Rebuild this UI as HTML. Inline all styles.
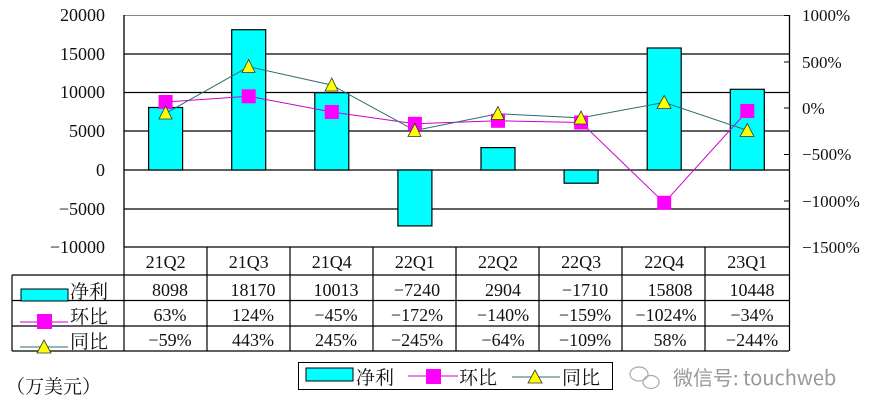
<!DOCTYPE html>
<html><head><meta charset="utf-8"><style>
html,body{margin:0;padding:0;background:#fff;}
svg text{font-family:"Liberation Serif","Noto Serif CJK SC","Noto Sans CJK SC",serif;fill:#111;}
.cj{font-family:'Noto Serif CJK SC','Noto Sans CJK SC',serif;}
</style></head><body>
<svg width="880" height="415" viewBox="0 0 880 415" xmlns="http://www.w3.org/2000/svg">
<rect width="880" height="415" fill="#fff"/>
<g stroke="#000" stroke-width="1.3">
<line x1="124" y1="54" x2="789" y2="54"/>
<line x1="124" y1="92.5" x2="789" y2="92.5"/>
<line x1="124" y1="131" x2="789" y2="131"/>
<line x1="124" y1="170" x2="789" y2="170"/>
<line x1="124" y1="209" x2="789" y2="209"/>
</g>
<line x1="124" y1="15.5" x2="789" y2="15.5" stroke="#888" stroke-width="1"/>
<line x1="124" y1="15" x2="124" y2="247" stroke="#000" stroke-width="1.3"/>
<line x1="789.5" y1="15" x2="789.5" y2="247" stroke="#000" stroke-width="1.3"/>
<g stroke="#000" stroke-width="1">
<line x1="784" y1="15.5" x2="789" y2="15.5"/><line x1="784" y1="62" x2="789" y2="62"/>
<line x1="784" y1="108" x2="789" y2="108"/><line x1="784" y1="154.5" x2="789" y2="154.5"/>
<line x1="784" y1="201" x2="789" y2="201"/>
</g>
<g fill="#00ffff" stroke="#000" stroke-width="1.2">
<rect x="148.6" y="107.5" width="34" height="62.5"/>
<rect x="231.7" y="29.7" width="34" height="140.3"/>
<rect x="314.8" y="92.7" width="34" height="77.3"/>
<rect x="397.9" y="170" width="34" height="55.9"/>
<rect x="481" y="147.6" width="34" height="22.4"/>
<rect x="564.1" y="170" width="34" height="13.2"/>
<rect x="647.2" y="48" width="34" height="122"/>
<rect x="730.3" y="89.3" width="34" height="80.7"/>
</g>
<polyline fill="none" stroke="#cc00cc" stroke-width="1" points="165.6,102 248.7,96.3 331.8,112 414.9,123.8 498,120.8 581.1,122.5 664.2,202.8 747.3,111"/>
<polyline fill="none" stroke="#2a6f6f" stroke-width="1" points="165.6,113.3 248.7,66.7 331.8,85.1 414.9,130.5 498,113.7 581.1,117.9 664.2,102.4 747.3,130.4"/>
<g fill="#ff00ff">
<rect x="158.6" y="95" width="14" height="14"/><rect x="241.7" y="89.3" width="14" height="14"/>
<rect x="324.8" y="105" width="14" height="14"/><rect x="407.9" y="116.8" width="14" height="14"/>
<rect x="491" y="113.8" width="14" height="14"/><rect x="574.1" y="115.5" width="14" height="14"/>
<rect x="657.2" y="195.8" width="14" height="14"/><rect x="740.3" y="104" width="14" height="14"/>
</g>
<g fill="#ffff00" stroke="#333" stroke-width="0.8">
<polygon points="165.6,106 159,119 172,119"/>
<polygon points="248.7,59.5 242,72.5 255,72.5"/>
<polygon points="331.8,78 325,91 338,91"/>
<polygon points="414.9,123.5 408,136.5 421,136.5"/>
<polygon points="498,106.5 491,119.5 504,119.5"/>
<polygon points="581.1,111 574,124 587,124"/>
<polygon points="664.2,95.5 657,108.5 671,108.5"/>
<polygon points="747.3,123.5 740,136.5 754,136.5"/>
</g>
<g font-size="18" text-anchor="end">
<text x="105" y="21">20000</text><text x="105" y="60">15000</text>
<text x="105" y="98">10000</text><text x="105" y="137">5000</text>
<text x="105" y="176">0</text><text x="105" y="215">−5000</text>
<text x="105" y="253">−10000</text>
</g>
<g font-size="17" text-anchor="start">
<text x="802" y="21">1000%</text><text x="802" y="68">500%</text>
<text x="802" y="114">0%</text><text x="802" y="160">−500%</text>
<text x="802" y="207">−1000%</text><text x="802" y="253">−1500%</text>
</g>
<g stroke="#000" stroke-width="1.2" fill="none">
<line x1="124" y1="247" x2="789" y2="247"/>
<line x1="12" y1="275" x2="789" y2="275"/>
<line x1="12" y1="300.5" x2="789" y2="300.5"/>
<line x1="12" y1="326" x2="789" y2="326"/>
<line x1="12" y1="351" x2="789" y2="351"/>
<line x1="12" y1="275" x2="12" y2="351"/>
<line x1="124" y1="247" x2="124" y2="351"/>
<line x1="207" y1="247" x2="207" y2="351"/><line x1="290" y1="247" x2="290" y2="351"/>
<line x1="373" y1="247" x2="373" y2="351"/><line x1="456" y1="247" x2="456" y2="351"/>
<line x1="539" y1="247" x2="539" y2="351"/><line x1="622" y1="247" x2="622" y2="351"/>
<line x1="705" y1="247" x2="705" y2="351"/><line x1="789.5" y1="247" x2="789.5" y2="351"/>
</g>
<g font-size="18" text-anchor="middle">
<text x="165.6" y="268">21Q2</text><text x="248.7" y="268">21Q3</text><text x="331.8" y="268">21Q4</text><text x="414.9" y="268">22Q1</text>
<text x="498" y="268">22Q2</text><text x="581.1" y="268">22Q3</text><text x="664.2" y="268">22Q4</text><text x="747.3" y="268">23Q1</text>
<text x="170" y="296">8098</text><text x="253" y="296">18170</text><text x="336" y="296">10013</text><text x="417" y="296">−7240</text>
<text x="503" y="296">2904</text><text x="585" y="296">−1710</text><text x="670" y="296">15808</text><text x="752" y="296">10448</text>
<text x="170" y="321">63%</text><text x="253" y="321">124%</text><text x="336" y="321">−45%</text><text x="417" y="321">−172%</text>
<text x="503" y="321">−140%</text><text x="585" y="321">−159%</text><text x="666" y="321">−1024%</text><text x="752" y="321">−34%</text>
<text x="170" y="346">−59%</text><text x="253" y="346">443%</text><text x="336" y="346">245%</text><text x="417" y="346">−245%</text>
<text x="503" y="346">−64%</text><text x="585" y="346">−109%</text><text x="670" y="346">58%</text><text x="752" y="346">−244%</text>
</g>
<rect x="21" y="289" width="47" height="12" fill="#00ffff" stroke="#000" stroke-width="1"/>
<line x1="20" y1="322" x2="68" y2="322" stroke="#cc00cc"/>
<rect x="37" y="314" width="15" height="15" fill="#ff00ff"/>
<line x1="20" y1="347" x2="68" y2="347" stroke="#2a6f6f"/>
<polygon points="44,340 37,353 51,353" fill="#ffff00" stroke="#333" stroke-width="0.8"/>
<text x="70" y="298" font-size="19" class="cj">净利</text>
<text x="70" y="323" font-size="19" class="cj">环比</text>
<text x="70" y="348" font-size="19" class="cj">同比</text>
<text x="6" y="393" font-size="19" class="cj">（万美元）</text>
<rect x="298.5" y="362.5" width="314" height="27" fill="#fff" stroke="#000" stroke-width="1"/>
<rect x="306" y="368" width="47" height="13" fill="#00ffff" stroke="#000" stroke-width="1"/>
<text x="356" y="384" font-size="19" class="cj">净利</text>
<line x1="408" y1="376" x2="458" y2="376" stroke="#cc00cc"/>
<rect x="426" y="369" width="15" height="15" fill="#ff00ff"/>
<text x="459" y="384" font-size="19" class="cj">环比</text>
<line x1="512" y1="377" x2="560" y2="377" stroke="#2a6f6f"/>
<polygon points="535,370 528,383 542,383" fill="#ffff00" stroke="#333" stroke-width="0.8"/>
<text x="562" y="384" font-size="19" class="cj">同比</text>
<g stroke="#aaa" stroke-width="1.2" fill="none">
<ellipse cx="639" cy="374" rx="9" ry="7"/>
<ellipse cx="651" cy="382" rx="8" ry="6.5"/>
</g>
<text x="673" y="385" font-size="20" style="fill:#999;font-family:'Noto Sans CJK SC',sans-serif">微信号: touchweb</text>
</svg>
</body></html>
